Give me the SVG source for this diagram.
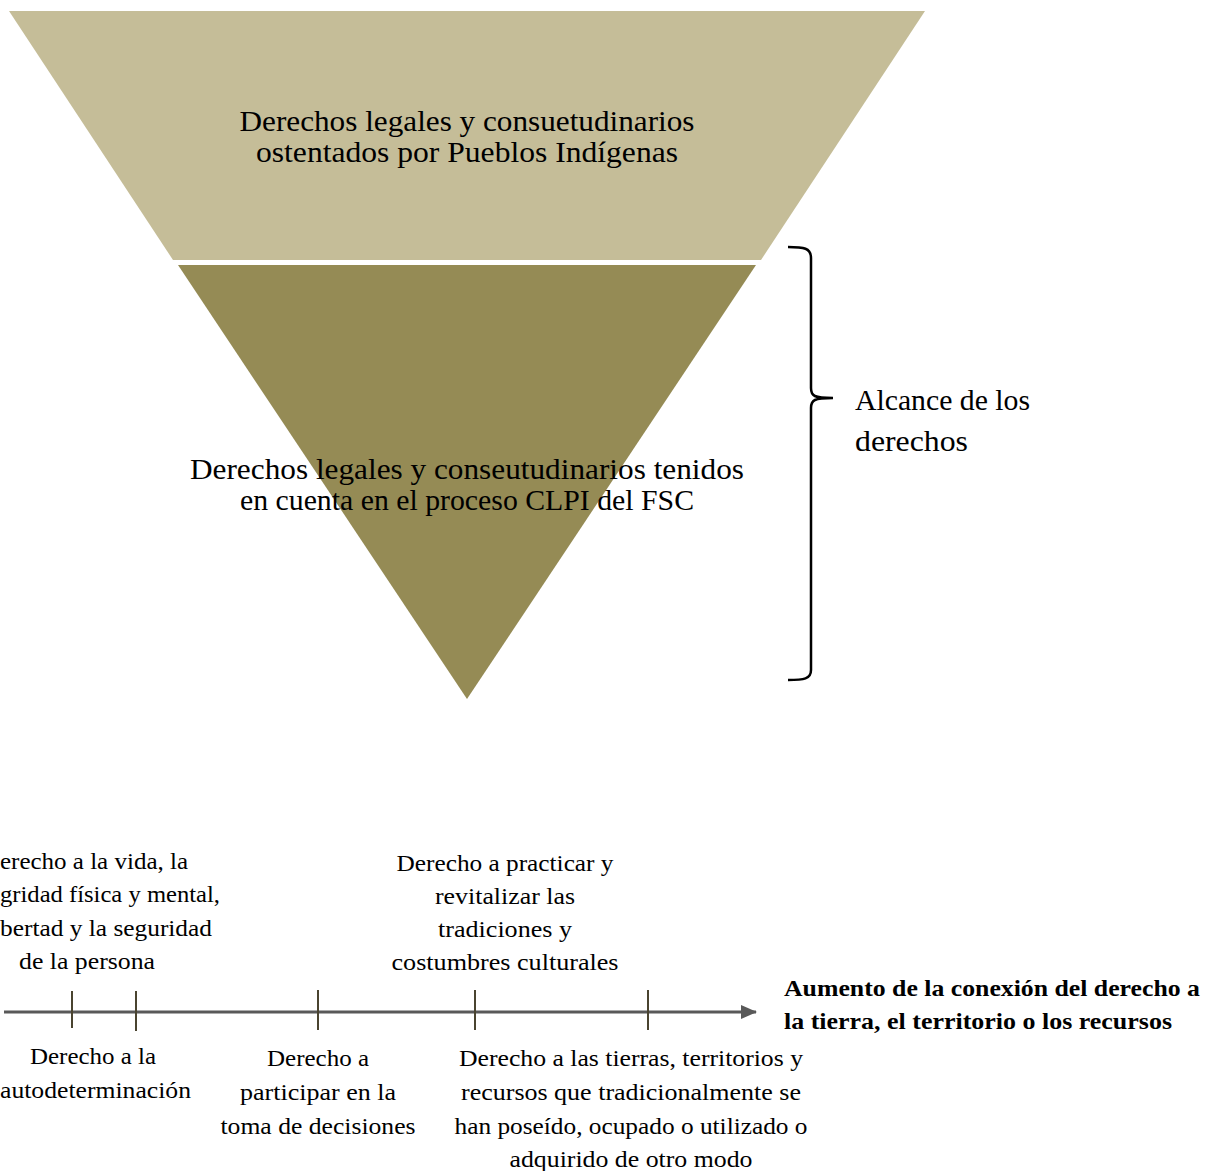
<svg xmlns="http://www.w3.org/2000/svg" width="1209" height="1171" viewBox="0 0 1209 1171">
<style>
text{font-family:"Liberation Serif","Times New Roman",serif;fill:#000}
.big{font-size:30px}
.lbl{font-size:24px}
.mid{text-anchor:middle}
.end{text-anchor:end}
.bold{font-weight:bold;font-size:24px}
.tick{stroke:#4a4430;stroke-width:2}
</style>
<defs>
<marker id="ah" markerWidth="16" markerHeight="14" refX="15" refY="7" orient="auto" markerUnits="userSpaceOnUse">
<polygon points="0,0 16,7 0,14" fill="#595959"/>
</marker>
</defs>
<rect width="1209" height="1171" fill="#fff"/>
<g id="upper">
<polygon points="9,11 925,11 761,260 173,260" fill="#c5bd98"/>
<text class="big mid" x="467" y="131" textLength="455" lengthAdjust="spacingAndGlyphs">Derechos legales y consuetudinarios</text>
<text class="big mid" x="467" y="162" textLength="422" lengthAdjust="spacingAndGlyphs">ostentados por Pueblos Indígenas</text>
</g>
<g id="lower">
<polygon points="178,265 756,265 467,699" fill="#958b55"/>
<text class="big mid" x="467" y="479" textLength="554" lengthAdjust="spacingAndGlyphs">Derechos legales y conseutudinarios tenidos</text>
<text class="big mid" x="467" y="510" textLength="454" lengthAdjust="spacingAndGlyphs">en cuenta en el proceso CLPI del FSC</text>
</g>
<g id="scope">
<path d="M788,247 C804,247 811,248 811,258 L811,388 C811,396 814,398 833,398 C814,398 811,400 811,408 L811,670 C811,679 804,680 788,680" fill="none" stroke="#000" stroke-width="2.5"/>
<text class="big" x="855" y="410" textLength="175" lengthAdjust="spacingAndGlyphs">Alcance de los</text>
<text class="big" x="855" y="451" textLength="113" lengthAdjust="spacingAndGlyphs">derechos</text>
</g>
<g id="connectors">
<line x1="4" y1="1012" x2="756" y2="1012" stroke="#595959" stroke-width="3" marker-end="url(#ah)"/>
<line class="tick" x1="72" y1="991" x2="72" y2="1028"/>
<line class="tick" x1="136" y1="991" x2="136" y2="1031"/>
<line class="tick" x1="318" y1="990" x2="318" y2="1030"/>
<line class="tick" x1="475" y1="990" x2="475" y2="1030"/>
<line class="tick" x1="648" y1="990" x2="648" y2="1030"/>
</g>
<g id="label-vida">
<text class="lbl end" x="188" y="869" textLength="188" lengthAdjust="spacingAndGlyphs">erecho a la vida, la</text>
<text class="lbl end" x="220" y="902" textLength="220" lengthAdjust="spacingAndGlyphs">gridad física y mental,</text>
<text class="lbl end" x="212" y="936" textLength="212" lengthAdjust="spacingAndGlyphs">bertad y la seguridad</text>
<text class="lbl mid" x="87" y="969" textLength="136" lengthAdjust="spacingAndGlyphs">de la persona</text>
</g>
<g id="label-tradiciones">
<text class="lbl mid" x="505" y="871" textLength="217" lengthAdjust="spacingAndGlyphs">Derecho a practicar y</text>
<text class="lbl mid" x="505" y="904" textLength="140" lengthAdjust="spacingAndGlyphs">revitalizar las</text>
<text class="lbl mid" x="505" y="937" textLength="134" lengthAdjust="spacingAndGlyphs">tradiciones y</text>
<text class="lbl mid" x="505" y="970" textLength="227" lengthAdjust="spacingAndGlyphs">costumbres culturales</text>
</g>
<g id="label-autodeterminacion">
<text class="lbl mid" x="93" y="1064" textLength="126" lengthAdjust="spacingAndGlyphs">Derecho a la</text>
<text class="lbl end" x="191" y="1098" textLength="191" lengthAdjust="spacingAndGlyphs">autodeterminación</text>
</g>
<g id="label-decisiones">
<text class="lbl mid" x="318" y="1066" textLength="102" lengthAdjust="spacingAndGlyphs">Derecho a</text>
<text class="lbl mid" x="318" y="1100" textLength="156" lengthAdjust="spacingAndGlyphs">participar en la</text>
<text class="lbl mid" x="318" y="1134" textLength="195" lengthAdjust="spacingAndGlyphs">toma de decisiones</text>
</g>
<g id="label-tierras">
<text class="lbl mid" x="631" y="1066" textLength="344" lengthAdjust="spacingAndGlyphs">Derecho a las tierras, territorios y</text>
<text class="lbl mid" x="631" y="1100" textLength="340" lengthAdjust="spacingAndGlyphs">recursos que tradicionalmente se</text>
<text class="lbl mid" x="631" y="1134" textLength="353" lengthAdjust="spacingAndGlyphs">han poseído, ocupado o utilizado o</text>
<text class="lbl mid" x="631" y="1167" textLength="243" lengthAdjust="spacingAndGlyphs">adquirido de otro modo</text>
</g>
<g id="axis-label">
<text class="bold" x="784" y="996" textLength="416" lengthAdjust="spacingAndGlyphs">Aumento de la conexión del derecho a</text>
<text class="bold" x="784" y="1029" textLength="388" lengthAdjust="spacingAndGlyphs">la tierra, el territorio o los recursos</text>
</g>
</svg>
